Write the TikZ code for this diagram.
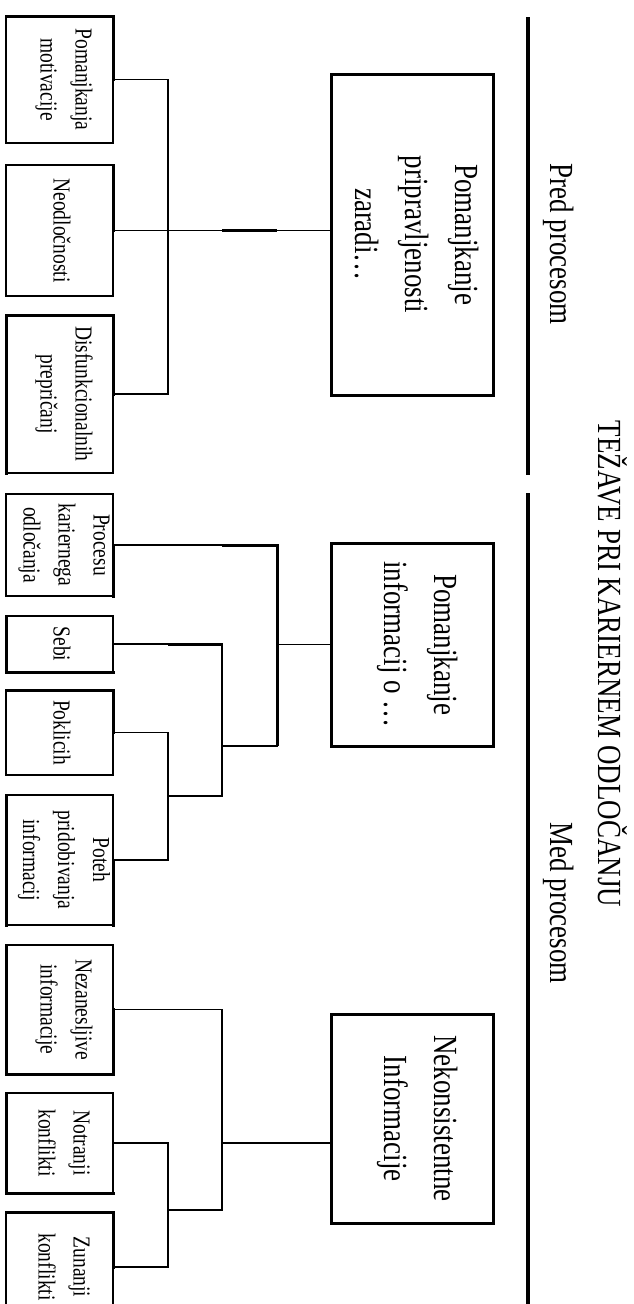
\documentclass[tikz,border=0pt]{standalone}
\usepackage{fontspec}
\setmainfont{Liberation Serif}
\usetikzlibrary{calc}
\begin{document}
\begin{tikzpicture}[x=1pt,y=-1pt,
  sbox/.style={draw, line width=1.5pt, minimum width=107pt, inner sep=0pt, outer sep=0pt},
  bbox/.style={draw, line width=3pt, minimum width=162pt, inner sep=0pt, outer sep=0pt},
  conn/.style={line width=1.3pt},
  thk/.style={line width=3pt},
  tedge/.style={line width=3pt, line cap=rect},
  sep/.style={line width=3.5pt},
  stxt/.style={rotate=-90, yscale=1.25, align=center, font=\fontsize{19.5}{28}\selectfont, inner sep=0pt},
  btxt/.style={rotate=-90, yscale=1.25, align=center, font=\fontsize{27}{40}\selectfont, inner sep=0pt}]
\useasboundingbox (0,0) rectangle (633,1304);
\clip (0,0) rectangle (633,1304);
% columns and joints of the brackets
\coordinate (c1) at (168,0);
\coordinate (c2) at (222,0);
\coordinate (c3) at (277,0);
\coordinate (m3) at (168,796);
\coordinate (m4) at (168,1210);
% small boxes
\node[sbox, minimum height=127pt] (b1) at (59.5,79.5) {};
\node[sbox, minimum height=131pt] (b2) at (59.5,230.5) {};
\node[sbox, minimum height=158pt] (b3) at (59.5,394) {};
\node[sbox, minimum height=102pt] (b4) at (59.5,545) {};
\node[sbox, minimum height=56pt] (b5) at (59.5,644) {};
\node[sbox, minimum height=85pt] (b6) at (59.5,732.5) {};
\node[sbox, minimum height=130pt] (b7) at (59.5,860) {};
\node[sbox, minimum height=129pt] (b8) at (59.5,1009.5) {};
\node[sbox, minimum height=100pt] (b9) at (59.5,1143) {};
\node[sbox, minimum height=110pt] (b10) at (59.5,1267) {};
% heavier edges of the small boxes
\draw[tedge] (b1.north west) -- (b1.north east) -- (b1.east);
\draw[tedge] (b2.north east) -- (b2.east);
\draw[tedge] (b3.south west) -- (b3.north west) -- (b3.north east) -- (b3.east);
\draw[tedge] (b4.east) -- (b4.south east);
\draw[tedge] (b5.north west) -- (b5.south west) -- (b5.south east);
\draw[tedge] (b6.north west) -- (b6.north east) -- (b6.east);
\draw[tedge] (b7.north west) -- (b7.south west);
\draw[tedge] (b7.east) -- (b7.south east);
\draw[tedge] (b8.north west) -- (b8.south west) -- (b8.south east) -- (b8.east);
\draw[tedge] (b9.north west) -- (b9.south west) -- (b9.south east);
\draw[tedge] (b10.north west) -- (b10.north east) -- (b10.east);
\node[stxt] (t1) at (64,79.5) {Pomanjkanja\\motivacije};
\node[stxt] (t2) at (62,230.5) {Neodločnosti};
\node[stxt] (t3) at (64,394) {Disfunkcionalnih\\prepričanj};
\node[stxt] (t4) at (64,545) {Procesu\\kariernega\\odločanja};
\node[stxt] (t5) at (62,644) {Sebi};
\node[stxt] (t6) at (62,732.5) {Poklicih};
\node[stxt] (t7) at (64,860) {Poteh\\pridobivanja\\informacij};
\node[stxt] (t8) at (64,1009.5) {Nezanesljive\\informacije};
\node[stxt] (t9) at (64,1143) {Notranji\\konflikti};
\node[stxt] (t10) at (64,1267) {Zunanji\\konflikti};
% big boxes
\node[bbox, minimum height=321pt] (B1) at (412,234.5) {};
\node[bbox, minimum height=203pt] (B2) at (412,644.5) {};
\node[bbox, minimum height=209pt] (B3) at (412,1118.5) {};
\node[btxt] (T1) at (417,234.5) {Pomanjkanje\\pripravljenosti\\zaradi…};
\node[btxt] (T2) at (418,644.5) {Pomanjkanje\\informacij o …};
\node[btxt] (T3) at (418,1118.5) {Nekonsistentne\\Informacije};
% group 1
\draw[conn] (b1.east) -- (b1.east -| c1) -- (b3.east -| c1) -- (b3.east);
\draw[conn] (b2.east) -- (b2.east -| B1.west);
\draw[thk] (b2.east -| c2) -- (b2.east -| c3);
% group 2
\coordinate (j2) at (c3 |- B2.south);
\draw[conn] (b4.east) -- (b4.east -| c3) -- (j2) -- (j2 -| c2);
\draw[conn] (b5.east) -- (b5.east -| c2) -- (c2 |- m3) -- (m3);
\draw[conn] (B2.west -| c3) -- (B2.west);
\draw[conn] (b6.east) -- (b6.east -| c1) -- (b7.east -| c1) -- (b7.east);
\draw[thk] (b4.east -| c2) -- (b4.east -| c3) -- (j2);
\draw[thk] (b5.east -| c1) -- (b5.east -| c2);
% group 3
\draw[conn] (b8.east) -- (b8.east -| c2) -- (c2 |- m4) -- (m4);
\draw[conn] (b9.east -| c2) -- (b9.east -| B3.west);
\draw[conn] (b9.east) -- (b9.east -| c1) -- (b10.east -| c1) -- (b10.east);
% separator and headings
\coordinate (s1) at (528,17);
\coordinate (s2) at (528,475);
\coordinate (s3) at (528,493);
\coordinate (s4) at (528,1310);
\draw[sep] (s1) -- (s2);
\draw[sep] (s3) -- (s4);
\node[btxt] (pred) at (559,244) {Pred procesom};
\node[btxt] (med) at (559,903) {Med procesom};
\node[btxt] (title) at (613,664) {TEŽAVE PRI KARIERNEM ODLOČANJU};
\end{tikzpicture}
\end{document}
